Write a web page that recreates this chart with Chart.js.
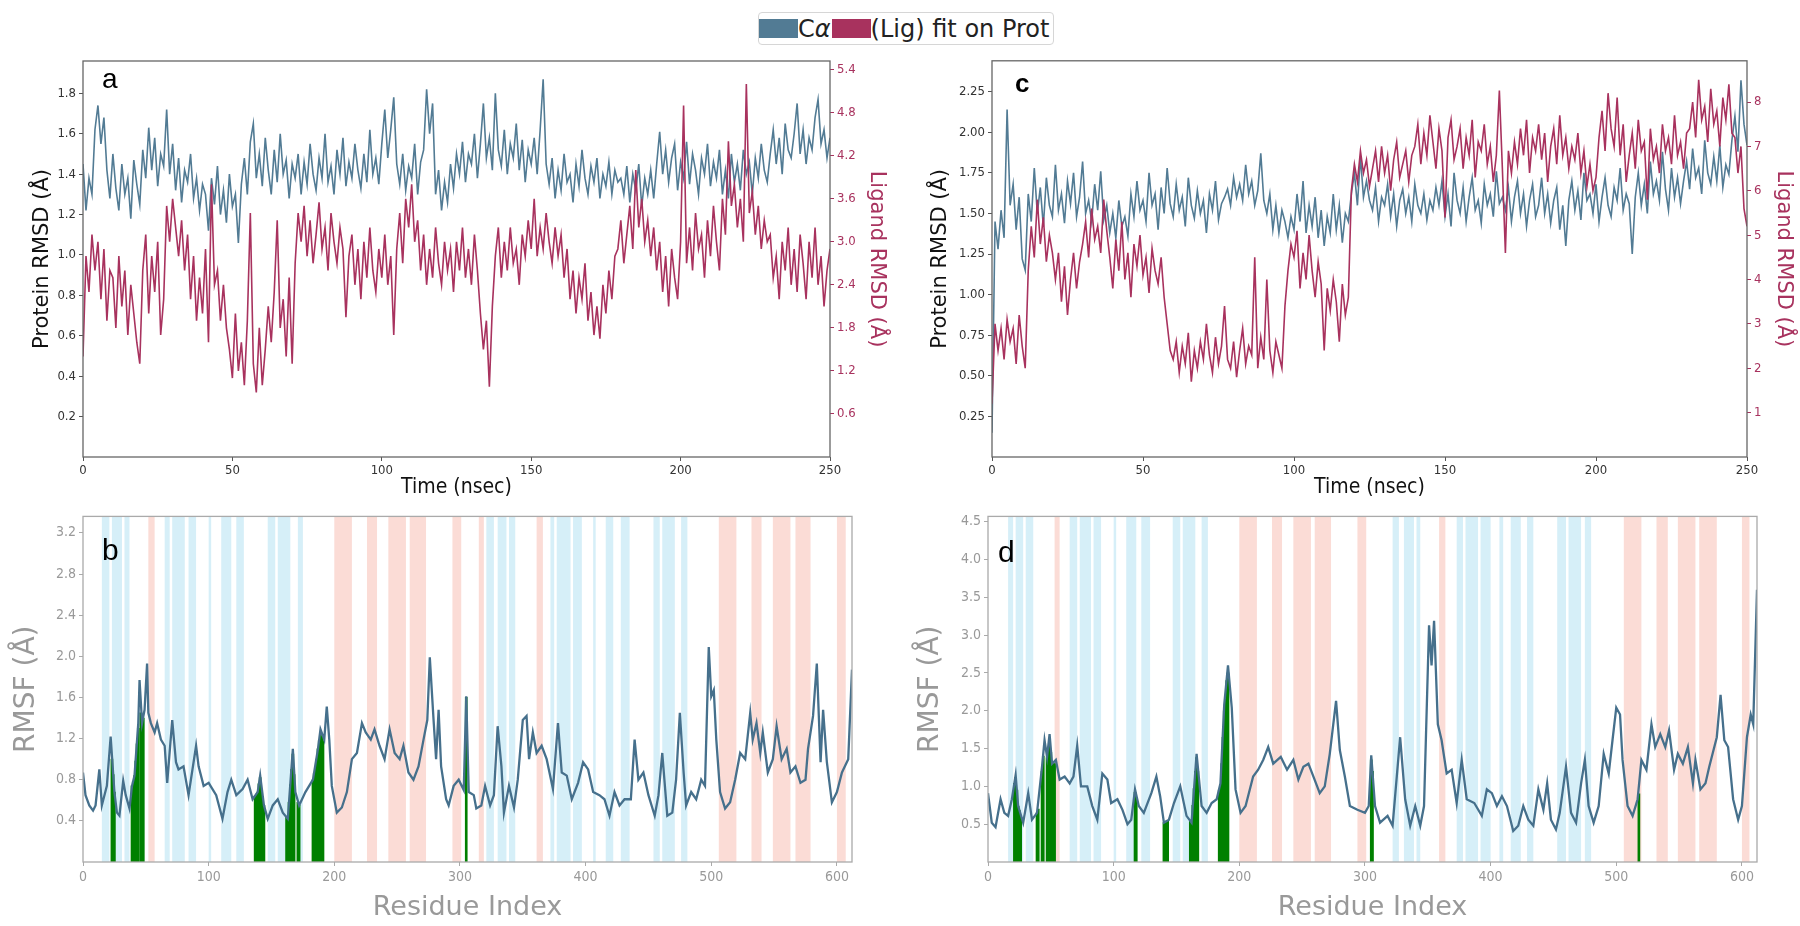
<!DOCTYPE html>
<html lang="en">
<head>
<meta charset="UTF-8">
<title>RMSD and RMSF</title>
<script src="https://cdn.jsdelivr.net/npm/chart.js@4.4.1/dist/chart.umd.min.js"></script>
<style>
  body { margin: 0; width: 1800px; height: 926px; position: relative; overflow: hidden; background: #fff; font-family: "DejaVu Sans", sans-serif; }
  .panel { position: absolute; }
  #legend { position: absolute; left: 758px; top: 12px; height: 31px; display: flex; align-items: center;
            border: 1px solid #d6d6d6; border-radius: 4px; font-size: 24px; color: #222; padding-right: 4px; }
  .sw { display: inline-block; width: 39px; height: 19px; }
</style>
</head>
<body>

<div id="legend">
  <span class="sw" style="background:#527b94"></span><span>C<i>α</i></span>
  <span class="sw" style="background:#a8325e;margin-left:1px"></span><span>(Lig) fit on Prot</span>
</div>

<div class="panel" style="left:20px;top:50px"><canvas id="chartA" width="875" height="450"></canvas></div>
<div class="panel" style="left:925px;top:50px"><canvas id="chartC" width="875" height="450"></canvas></div>
<div class="panel" style="left:0px;top:505px"><canvas id="chartB" width="880" height="421"></canvas></div>
<div class="panel" style="left:900px;top:505px"><canvas id="chartD" width="900" height="421"></canvas></div>

<script>
// ---- tick labels ----
const timeTicks = [0, 50, 100, 150, 200, 250]
const residueTicks = [0, 100, 200, 300, 400, 500, 600]
const protTicksA = [0.2, 0.4, 0.6, 0.8, 1.0, 1.2, 1.4, 1.6, 1.8]
const ligTicksA = [0.6, 1.2, 1.8, 2.4, 3.0, 3.6, 4.2, 4.8, 5.4]
const protTicksC = [0.25, 0.5, 0.75, 1.0, 1.25, 1.5, 1.75, 2.0, 2.25]
const ligTicksC = [1, 2, 3, 4, 5, 6, 7, 8]
const rmsfTicksB = [0.4, 0.8, 1.2, 1.6, 2.0, 2.4, 2.8, 3.2]
const rmsfTicksD = [0.5, 1.0, 1.5, 2.0, 2.5, 3.0, 3.5, 4.0, 4.5]

// ---- panel a: RMSD, one sample per ns ----
const protA = [1.45,1.22,1.38,1.30,1.62,1.74,1.55,1.68,1.42,1.28,1.50,1.33,1.22,1.45,1.30,1.38,1.18,1.47,1.35,1.25,
  1.52,1.38,1.63,1.42,1.58,1.34,1.50,1.44,1.72,1.40,1.55,1.32,1.48,1.26,1.42,1.36,1.50,1.28,1.38,1.22,1.35,1.30,
  1.12,1.38,1.25,1.44,1.20,1.32,1.16,1.40,1.24,1.30,1.06,1.35,1.48,1.30,1.56,1.65,1.38,1.50,1.34,1.58,1.42,1.30,
  1.52,1.36,1.60,1.40,1.47,1.28,1.45,1.38,1.50,1.30,1.46,1.35,1.55,1.40,1.32,1.48,1.38,1.60,1.36,1.44,1.30,1.52,
  1.40,1.58,1.34,1.46,1.38,1.55,1.42,1.33,1.50,1.36,1.62,1.40,1.48,1.35,1.55,1.72,1.48,1.62,1.78,1.45,1.35,1.50,
  1.32,1.44,1.38,1.55,1.30,1.46,1.52,1.82,1.60,1.75,1.30,1.42,1.22,1.36,1.26,1.45,1.33,1.50,1.40,1.56,1.36,1.50,
  1.45,1.60,1.38,1.55,1.75,1.48,1.58,1.42,1.80,1.52,1.44,1.62,1.40,1.55,1.48,1.65,1.42,1.57,1.36,1.52,1.45,1.58,
  1.40,1.62,1.87,1.45,1.35,1.48,1.28,1.42,1.32,1.50,1.36,1.40,1.26,1.45,1.34,1.52,1.38,1.30,1.44,1.36,1.48,1.28,
  1.40,1.34,1.46,1.30,1.42,1.36,1.38,1.30,1.44,1.26,1.40,1.32,1.45,1.24,1.38,1.30,1.42,1.28,1.45,1.61,1.40,1.52,
  1.36,1.48,1.55,1.32,1.46,1.38,1.56,1.35,1.50,1.42,1.30,1.48,1.40,1.55,1.34,1.46,1.38,1.52,1.30,1.42,1.28,1.50,
  1.36,1.45,1.32,1.52,1.40,1.46,1.30,1.48,1.38,1.55,1.42,1.36,1.50,1.62,1.45,1.58,1.40,1.65,1.52,1.48,1.60,1.75,
  1.50,1.62,1.45,1.58,1.52,1.68,1.77,1.55,1.62,1.48,1.58]
const ligA = [1.4,2.8,2.3,3.1,2.6,3.0,2.2,2.9,1.9,2.6,2.5,1.8,2.8,2.1,2.6,1.7,2.4,2.0,1.6,1.3,
  2.6,3.1,2.0,2.8,2.3,3.0,1.7,2.2,3.5,3.0,3.6,3.2,2.8,3.3,2.6,3.1,2.2,2.8,1.9,2.5,2.0,2.9,
  1.6,3.8,2.4,2.6,1.9,2.4,1.8,1.5,1.1,2.0,1.2,1.6,1.0,1.9,3.4,1.3,0.9,1.8,1.0,1.5,2.1,
  1.6,2.3,3.3,1.8,2.2,1.4,2.5,1.3,2.7,3.4,3.0,3.5,2.8,3.3,2.7,3.1,3.55,2.9,3.2,2.6,3.4,3.0,2.7,3.2,2.9,1.95,
  2.8,3.1,2.4,2.9,2.2,3.0,2.5,3.2,2.6,2.3,2.9,2.5,3.1,2.4,2.8,1.7,2.9,3.4,2.7,3.6,3.2,3.8,3.0,
  3.3,2.6,3.1,2.4,2.9,2.5,3.2,2.7,2.4,3.0,2.6,2.9,2.3,3.0,2.6,3.2,2.5,2.9,2.4,3.1,2.6,
  2.0,1.5,1.9,0.98,2.1,2.8,3.2,2.5,3.0,2.6,3.2,2.7,2.9,2.4,3.1,2.8,3.3,2.9,
  3.6,2.8,3.2,2.9,3.4,3.0,2.7,3.2,2.8,3.1,2.5,2.9,2.2,2.6,2.0,2.5,2.2,2.7,1.9,2.3,1.7,2.1,1.65,2.4,2.0,2.6,2.2,2.8,
  2.9,3.3,2.7,3.1,3.5,2.9,4.0,3.2,3.6,3.0,3.3,2.8,3.2,2.6,3.0,2.3,2.8,2.1,2.9,2.5,2.2,3.0,4.9,
  2.7,3.2,2.6,3.4,2.9,3.1,2.5,3.3,2.8,3.5,3.0,2.6,3.6,3.1,4.4,3.5,3.8,3.2,3.6,3.0,5.2,3.4,3.7,3.1,3.5,2.9,3.3,3.0,
  3.1,2.5,2.8,2.2,3.0,2.6,3.2,2.4,2.9,2.3,3.1,2.7,2.2,3.0,2.5,3.2,2.4,2.8,2.1,2.6,2.9]

// ---- panel c: RMSD, one sample per ns ----
const protC = [0.15,1.45,1.28,1.52,1.35,2.14,1.55,1.68,1.40,1.60,1.22,1.15,
  1.62,1.45,1.78,1.50,1.66,1.42,1.72,1.55,1.48,1.80,1.52,1.62,1.44,1.70,1.56,1.75,1.48,1.60,1.82,1.50,1.58,1.45,1.68,1.52,1.76,1.46,
  1.55,1.38,1.50,1.35,1.58,1.42,1.48,1.36,
  1.62,1.48,1.70,1.52,1.58,1.45,1.75,1.55,1.62,1.40,1.66,1.50,1.78,1.56,1.48,1.68,1.52,1.60,1.42,1.72,1.55,1.47,1.64,1.50,1.58,1.38,1.62,1.52,1.70,1.46,1.56,1.60,
  1.65,1.55,1.72,1.60,1.68,1.58,1.80,1.62,1.70,1.55,1.64,1.87,1.58,
  1.50,1.62,1.40,1.55,1.38,1.52,1.45,1.35,1.48,1.40,1.62,1.45,1.70,1.38,1.55,
  1.42,1.60,1.35,1.52,1.30,1.48,1.38,1.62,1.40,1.55,1.32,1.50,1.45,1.62,1.75,1.55,1.85,1.60,1.70,1.58,
  1.52,1.66,1.45,1.60,1.55,1.68,1.48,1.62,1.42,1.58,1.65,1.50,1.60,1.45,1.68,1.55,1.50,1.62,1.46,1.58,1.52,1.66,
  1.55,1.70,1.48,1.62,1.42,1.75,1.58,1.50,1.66,1.45,1.60,1.72,1.52,1.58,1.44,1.68,1.55,1.62,1.48,1.76,1.56,1.60,
  1.52,1.66,1.45,1.60,1.70,1.50,1.62,1.42,1.58,1.68,1.48,1.55,1.72,1.50,1.62,1.44,1.58,1.66,1.40,1.55,1.30,
  1.58,1.70,1.52,1.64,1.46,1.75,1.58,1.62,1.50,1.68,1.45,1.60,1.72,1.55,1.48,1.66,1.58,1.78,1.52,1.62,1.56,1.25,
  1.60,1.75,1.55,1.68,1.50,1.82,1.62,1.70,1.58,1.88,1.65,1.52,1.78,1.60,1.72,1.56,
  1.70,1.82,1.65,1.90,1.72,1.78,1.62,1.95,1.75,1.68,1.85,1.70,1.92,1.66,1.80,1.74,1.95,2.10,1.88,2.32,2.05,1.92]
const ligC = [1.2,3.0,2.4,2.9,2.2,3.1,2.6,2.9,2.1,3.2,2.5,2.0,4.2,5.2,4.5,5.8,4.8,5.4,4.4,5.0,4.6,
  4.0,4.6,3.5,4.3,3.2,4.0,4.6,3.8,4.4,4.8,5.3,4.5,5.6,4.9,5.2,4.6,5.8,5.1,
  4.5,3.8,4.9,4.2,5.3,4.0,4.6,3.6,4.8,4.3,5.0,4.1,4.5,3.7,4.7,4.2,3.9,4.5,3.6,3.0,2.4,
  2.2,2.6,1.9,2.5,2.1,2.8,1.7,2.4,2.0,2.6,2.2,3.0,2.3,1.9,2.7,2.1,2.5,3.4,2.2,2.0,
  2.6,1.8,2.4,2.9,2.1,2.5,2.3,4.5,2.0,2.7,2.2,4.0,2.4,1.9,2.6,2.3,2.0,3.4,4.2,4.8,
  4.5,5.1,3.8,4.6,4.0,5.0,4.2,3.6,4.4,3.9,2.4,3.8,3.3,4.0,3.5,2.6,3.9,3.2,3.6,
  6.0,6.6,6.2,6.9,6.4,6.7,6.1,6.5,6.9,6.2,7.0,6.4,6.8,6.0,6.7,7.1,6.3,6.6,6.9,6.2,6.8,
  7.0,7.5,6.6,7.3,6.8,7.7,7.1,6.5,7.4,6.9,5.4,7.2,7.6,6.7,7.0,7.4,6.5,7.2,6.8,7.6,6.3,7.1,6.9,7.5,6.6,7.0,
  6.2,6.8,8.26,6.5,4.6,6.9,6.4,
  7.1,6.6,7.4,6.8,7.6,6.4,7.2,6.9,7.5,6.7,7.3,6.2,7.0,7.4,6.6,7.7,6.8,7.2,6.5,7.0,6.7,7.3,6.4,6.9,6.1,6.6,6.0,6.3,
  7.2,7.8,6.9,8.2,7.4,7.0,8.1,6.8,7.5,6.2,
  6.8,7.3,6.5,7.6,6.9,7.1,5.8,7.4,6.7,7.0,6.4,7.5,6.9,7.2,6.6,7.7,6.8,7.1,6.5,7.3,
  7.4,8.0,7.2,8.5,7.6,7.9,7.1,8.3,7.5,7.8,7.0,8.1,7.6,8.4,7.3,7.2,6.4,7.0,5.6,5.2]

// ---- panel b: RMSF per residue ----
const resB = [0,2,5,8,10,13,15,19,22,25,27,29,32,34,37,39,41,44,45,47,49,51,52,54,57,59,62,65,67,71,74,76,80,84,90,92,96,100,
  106,111,115,118,122,127,131,135,139,141,144,147,151,155,159,163,167,169,172,177,183,187,189,192,194,196,198,202,206,210,
  214,218,222,225,229,232,236,240,244,248,252,255,259,263,267,271,274,276,279,281,283,285,289,291,295,299,303,305,307,311,
  313,317,320,324,327,330,333,335,339,343,346,350,353,355,358,361,365,369,374,378,381,385,389,394,398,402,406,411,415,419,
  423,427,431,436,439,442,446,450,455,458,461,465,469,472,475,478,480,484,488,492,495,498,500,502,504,507,511,515,519,523,
  527,531,533,536,539,541,545,549,552,556,560,563,567,571,575,577,581,584,587,589,592,596,600,604,609,612]
const rmsfB = [0.87,0.65,0.55,0.50,0.55,0.90,0.55,0.74,1.22,0.68,0.48,0.45,0.79,0.65,0.52,0.74,0.84,1.35,1.77,1.35,1.48,1.93,1.45,1.35,1.26,1.35,1.19,1.13,0.77,1.38,0.97,0.90,0.93,0.65,1.13,0.93,0.74,0.77,
  0.65,0.42,0.68,0.80,0.65,0.71,0.80,0.61,0.68,0.84,0.55,0.42,0.55,0.61,0.48,0.42,1.10,0.68,0.55,0.68,0.80,1.10,1.29,1.19,1.51,1.19,0.74,0.48,0.53,0.68,
  1.00,1.06,1.35,1.26,1.19,1.29,1.13,1.00,1.29,1.06,1.00,1.13,0.87,0.80,0.93,1.19,1.38,1.99,1.38,1.00,1.48,0.93,0.61,0.55,0.74,0.80,0.70,1.61,0.68,0.65,
  0.52,0.55,0.74,0.55,0.65,1.32,0.93,0.48,0.74,0.53,0.80,1.38,1.42,1.00,1.26,1.06,1.13,1.00,0.71,1.35,0.87,0.84,0.61,0.77,0.97,0.90,0.68,0.65,0.61,0.45,
  0.68,0.55,0.61,0.61,1.19,0.80,0.87,0.65,0.45,0.65,1.06,0.45,0.48,0.80,1.45,0.87,0.55,0.68,0.61,0.80,0.74,2.09,1.61,1.67,1.19,0.68,0.52,0.58,0.80,1.06,
  1.00,1.45,1.19,1.35,1.06,1.26,0.87,1.00,1.32,1.00,1.10,0.87,0.93,0.77,0.80,1.10,1.42,1.93,0.97,1.48,0.97,0.58,0.68,0.87,1.00,1.87]
const contactResB = [23,24,25,39,40,41,42,43,44,46,47,48,137,138,139,140,141,142,143,144,162,163,164,165,166,167,168,171,172,183,184,185,186,187,188,189,190,191,305]
const contactValB = [1.0,0.85,0.68,0.74,0.78,0.84,0.98,1.15,1.3,1.45,1.35,1.4,0.64,0.66,0.68,0.76,0.82,0.7,0.6,0.55,0.44,0.42,0.58,0.75,0.9,1.05,0.85,0.58,0.55,0.8,0.86,0.93,1.0,1.1,1.18,1.25,1.22,1.18,1.6]
const strandB = [[15,21],[23,31],[33,37],[65,69],[71,81],[84,90],[100,102],[110,118],[122,128],[147,153],[155,165],[171,175],
  [321,327],[330,337],[339,344],[372,375],[377,388],[390,397],[406,408],[416,422],[428,435],[454,459],[461,471],[476,481]]
const helixB = [[52,57],[200,214],[226,234],[243,257],[260,273],[294,301],[315,319],[361,366],[506,520],[532,540],[549,563],[567,579],[600,607]]

// ---- panel d: RMSF per residue ----
const resD = [0,3,6,10,13,16,19,22,24,28,32,35,39,43,45,47,49,51,54,57,61,65,68,71,74,79,83,87,91,95,98,103,107,111,114,117,120,124,
  130,134,137,140,144,148,153,158,162,166,170,174,178,182,185,188,191,194,197,201,205,211,215,219,223,227,233,238,243,247,
  251,255,259,264,268,272,277,280,284,288,294,300,303,305,308,312,318,322,328,332,336,340,344,347,351,353,355,358,361,365,
  369,373,377,381,387,393,397,401,405,409,413,418,422,426,430,434,438,442,445,448,452,455,460,464,468,472,475,478,482,486,
  490,494,497,500,503,505,509,513,517,520,524,528,531,535,539,542,546,549,553,557,561,563,567,571,574,580,583,586,589,593,
  597,600,604,607,609,612]
const rmsfD = [0.91,0.52,0.46,0.83,0.65,0.61,0.83,1.15,0.74,0.52,0.91,0.56,0.65,1.26,1.61,1.39,1.69,1.30,1.35,1.09,1.13,1.04,1.13,1.54,1.00,1.00,0.74,0.56,1.17,1.09,0.78,0.83,0.69,0.50,0.56,0.96,0.74,0.65,
  0.91,1.13,0.87,0.52,0.56,0.78,1.00,0.61,0.52,1.43,0.74,0.65,0.78,0.83,1.04,2.08,2.60,2.04,0.96,0.65,0.74,1.13,1.22,1.35,1.52,1.30,1.39,1.22,1.35,1.09,
  1.26,1.30,1.13,0.91,1.00,1.43,2.13,1.48,1.13,0.74,0.69,0.65,0.74,1.41,0.74,0.52,0.61,0.48,1.65,0.83,0.48,0.74,0.48,0.74,3.13,2.60,3.19,1.82,1.61,1.17,
  1.22,0.78,1.35,0.83,0.78,0.61,0.96,0.91,0.74,0.87,0.74,0.41,0.48,0.74,0.56,0.48,0.96,0.69,1.04,0.56,0.43,0.65,1.26,0.65,0.52,1.04,1.35,0.74,0.52,0.74,
  1.43,1.17,1.61,2.04,1.95,1.35,0.74,0.61,0.83,1.35,1.22,1.82,1.52,1.69,1.52,1.74,1.22,1.43,1.30,1.52,1.04,1.35,0.96,1.04,1.26,1.65,2.21,1.61,1.52,0.83,
  0.56,0.74,1.65,1.95,1.82,3.60]
const contactResD = [21,22,23,24,25,26,39,40,43,44,47,48,49,50,51,52,53,117,118,140,141,142,143,161,162,163,164,165,166,167,184,185,186,187,188,189,190,191,305,306,518]
const contactValD = [1.04,1.12,0.95,0.74,0.68,0.6,0.65,0.7,1.2,1.4,1.38,1.5,1.62,1.45,1.3,1.3,1.3,0.92,0.85,0.52,0.53,0.54,0.55,0.54,0.52,0.75,0.97,1.2,1.38,1.2,0.95,1.02,1.3,1.65,2.0,2.2,2.4,2.5,1.35,1.2,0.9]
const strandD = [[16,20],[22,28],[30,36],[65,71],[73,82],[84,90],[100,102],[110,118],[122,129],[147,153],[155,165],[170,175],
  [322,327],[331,339],[341,344],[373,378],[380,390],[392,400],[407,410],[416,424],[429,434],[453,460],[462,472],[475,480]]
const helixD = [[53,57],[200,214],[226,234],[243,257],[260,273],[294,301],[359,364],[506,520],[532,541],[549,563],[566,580],[600,606]]

// ---- styles ----
const PROT = '#527b94'
const LIG = '#a8325e'
const RMSF = '#46708c'
const narrow = '"DejaVu Sans Condensed", "Liberation Sans Narrow", "DejaVu Sans", sans-serif'

Chart.defaults.animation = false
Chart.defaults.font.family = narrow

// frame, label letter, secondary-structure bands
const panelPlugin = {
  id: 'panel',
  beforeDatasetsDraw(chart, args, opts) {
    if (!opts.bands) return
    const {ctx, chartArea: a, scales} = chart
    ctx.save()
    ctx.beginPath()
    ctx.rect(a.left, a.top, a.right - a.left, a.bottom - a.top)
    ctx.clip()
    opts.bands.forEach(b => {
      ctx.fillStyle = b.color
      b.ranges.forEach(r => {
        const x1 = scales.x.getPixelForValue(r[0])
        const x2 = scales.x.getPixelForValue(r[1])
        ctx.fillRect(x1, a.top, x2 - x1, a.bottom - a.top)
      })
    })
    ctx.restore()
  },
  afterDraw(chart, args, opts) {
    const {ctx, chartArea: a} = chart
    ctx.save()
    ctx.strokeStyle = opts.frame
    ctx.lineWidth = 1.3
    ctx.strokeRect(a.left, a.top, a.right - a.left, a.bottom - a.top)
    ctx.fillStyle = '#000'
    ctx.font = opts.labelFont
    ctx.fillText(opts.label, a.left + opts.labelX, a.top + opts.labelY)
    ctx.restore()
  }
}

function fixedTicks(vals) {
  return scale => { scale.ticks = vals.map(v => ({value: v})) }
}

function rmsdChart(id, prot, lig, cfg) {
  const times = prot.map((_, i) => i * 250 / (prot.length - 1))
  return new Chart(document.getElementById(id), {
    type: 'line',
    data: {
      labels: times,
      datasets: [
        {data: prot.map((v, i) => ({x: times[i], y: v})), borderColor: PROT, borderWidth: 1.6, pointRadius: 0, yAxisID: 'y', order: 2},
        {data: lig.map((v, i) => ({x: times[i], y: v})), borderColor: LIG, borderWidth: 1.6, pointRadius: 0, yAxisID: 'y2', order: 1}
      ]
    },
    options: {
      responsive: false,
      events: [],
      layout: {padding: {top: cfg.padTop, left: 0, right: 0, bottom: 0}},
      plugins: {legend: {display: false}, tooltip: {enabled: false},
        panel: {frame: '#666', label: cfg.label, labelFont: cfg.labelFont, labelX: cfg.labelX, labelY: cfg.labelY}},
      scales: {
        x: {type: 'linear', min: 0, max: 250, afterBuildTicks: fixedTicks(timeTicks),
          afterFit: s => { s.height = 43 },
          grid: {drawOnChartArea: false, tickLength: 4, color: '#555'}, border: {display: false},
          ticks: {color: '#333', font: {size: 13}, padding: 2, maxRotation: 0},
          title: {display: true, text: 'Time (nsec)', color: '#111', font: {size: 21}, padding: {top: 0, bottom: 0}}},
        y: {position: 'left', min: 0, max: cfg.protMax, afterBuildTicks: fixedTicks(cfg.protTicks),
          afterFit: s => { s.width = cfg.leftW },
          grid: {drawOnChartArea: false, tickLength: 4, color: '#555'}, border: {display: false},
          ticks: {color: '#333', font: {size: 13}, padding: 3, callback: v => v.toFixed(cfg.protDec)},
          title: {display: true, text: 'Protein RMSD (Å)', color: '#111', font: {family: 'DejaVu Sans', size: 21}, padding: {top: cfg.leftTitlePad}}},
        y2: {position: 'right', min: 0, max: cfg.ligMax, afterBuildTicks: fixedTicks(cfg.ligTicks),
          afterFit: s => { s.width = cfg.rightW },
          grid: {drawOnChartArea: false, tickLength: 4, color: LIG}, border: {display: false},
          ticks: {color: LIG, font: {size: 13}, padding: 3, callback: v => v.toFixed(cfg.ligDec)},
          title: {display: true, text: 'Ligand RMSD (Å)', color: LIG, font: {family: 'DejaVu Sans', size: 21}, padding: {top: cfg.rightTitlePad}}}
      }
    },
    plugins: [panelPlugin]
  })
}

function rmsfChart(id, res, rmsf, cRes, cVal, strand, helix, cfg) {
  return new Chart(document.getElementById(id), {
    type: 'line',
    data: {
      datasets: [
        {data: res.map((r, i) => ({x: r, y: rmsf[i]})), borderColor: RMSF, borderWidth: 2.3, pointRadius: 0, order: 1},
        {type: 'bar', data: cRes.map((r, i) => ({x: r, y: cVal[i]})), backgroundColor: '#008000', barThickness: 2, grouped: false, order: 2}
      ]
    },
    options: {
      responsive: false,
      events: [],
      layout: {padding: {top: cfg.padTop, left: 0, right: cfg.padRight, bottom: 0}},
      plugins: {legend: {display: false}, tooltip: {enabled: false},
        panel: {frame: '#aaa', label: cfg.label, labelFont: '30px "Liberation Sans", Arial, sans-serif', labelX: cfg.labelX, labelY: cfg.labelY,
          bands: [{color: '#d6eff8', ranges: strand}, {color: '#fbdcd6', ranges: helix}]}},
      scales: {
        x: {type: 'linear', min: 0, max: 612, offset: false, afterBuildTicks: fixedTicks(residueTicks),
          afterFit: s => { s.height = 64 },
          grid: {drawOnChartArea: false, offset: false, tickLength: 4, color: '#aaa'}, border: {display: false},
          ticks: {color: '#999', font: {size: 14}, padding: 3, maxRotation: 0},
          title: {display: true, text: 'Residue Index', color: '#999', font: {family: 'DejaVu Sans', size: 27}, padding: {top: 0, bottom: 2}}},
        y: {min: 0, max: cfg.yMax, afterBuildTicks: fixedTicks(cfg.yTicks),
          afterFit: s => { s.width = cfg.leftW },
          grid: {drawOnChartArea: false, tickLength: 4, color: '#aaa'}, border: {display: false},
          ticks: {color: '#999', font: {size: 14}, padding: 3, callback: v => v.toFixed(1)},
          title: {display: true, text: 'RMSF (Å)', color: '#999', font: {family: 'DejaVu Sans', size: 28}, padding: {top: cfg.titlePad}}}
      }
    },
    plugins: [panelPlugin]
  })
}

rmsdChart('chartA', protA, ligA, {
  padTop: 11, leftW: 63, rightW: 65, protMax: 1.96, ligMax: 5.52, protTicks: protTicksA, ligTicks: ligTicksA,
  protDec: 1, ligDec: 1, leftTitlePad: 10, rightTitlePad: 6,
  label: 'a', labelFont: '28px "Liberation Sans", Arial, sans-serif', labelX: 19, labelY: 27
})
rmsdChart('chartC', protC, ligC, {
  padTop: 6, leftW: 67, rightW: 53, protMax: 2.44, ligMax: 8.93, protTicks: protTicksC, ligTicks: ligTicksC,
  protDec: 2, ligDec: 0, leftTitlePad: 3, rightTitlePad: 4,
  label: 'c', labelFont: 'bold 26px "Liberation Sans", Arial, sans-serif', labelX: 23, labelY: 31
})
rmsfChart('chartB', resB, rmsfB, contactResB, contactValB, strandB, helixB, {
  padTop: 9, padRight: 28, leftW: 83, yMax: 3.36, yTicks: rmsfTicksB, titlePad: 10, label: 'b', labelX: 19, labelY: 44
})
rmsfChart('chartD', resD, rmsfD, contactResD, contactValD, strandD, helixD, {
  padTop: 7, padRight: 43, leftW: 88, yMax: 4.57, yTicks: rmsfTicksD, titlePad: 14, label: 'd', labelX: 10, labelY: 46
})
</script>
</body>
</html>
